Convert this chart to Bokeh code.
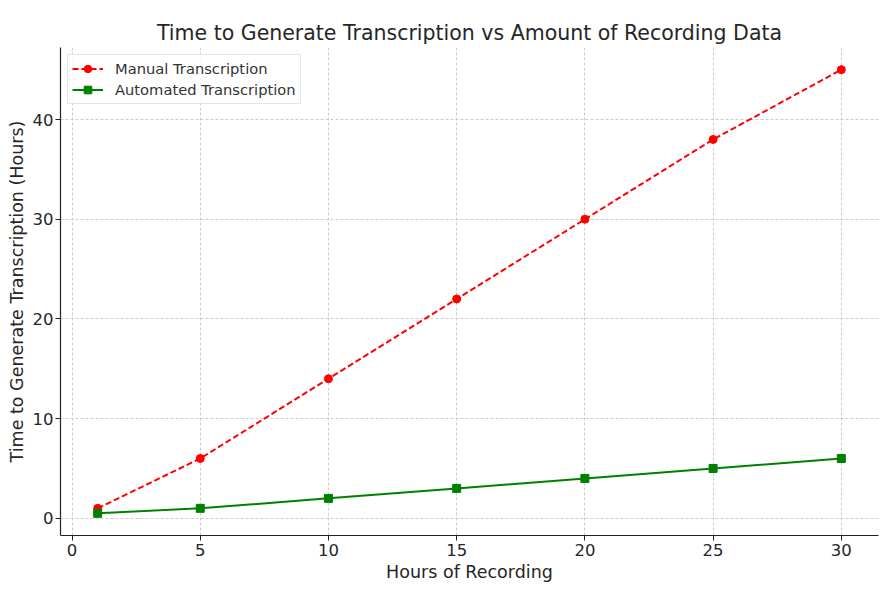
from bokeh.plotting import figure
from bokeh.models import Range1d, FixedTicker, Legend, LegendItem
from bokeh.embed import file_html
from bokeh.resources import INLINE

hours = [1, 5, 10, 15, 20, 25, 30]
manual = [1, 6, 14, 22, 30, 38, 45]
automated = [0.5, 1, 2, 3, 4, 5, 6]
x_ticks = [0, 5, 10, 15, 20, 25, 30]
y_ticks = [0, 10, 20, 30, 40]

FONT = "DejaVu Sans"

p = figure(frame_width=818, frame_height=488, output_backend="svg", toolbar_location=None,
           x_range=Range1d(-0.45, 31.45), y_range=Range1d(-1.725, 47.225),
           min_border_left=60, min_border_right=2, min_border_top=47, min_border_bottom=49)

p.title.text = "Time to Generate Transcription vs Amount of Recording Data"
p.title.text_font = FONT
p.title.text_font_size = "20.5px"
p.title.text_font_style = "normal"
p.title.text_color = "#262626"
p.title.align = "center"
p.title.standoff = 5

p.outline_line_color = None
p.background_fill_color = "white"

for ax in (p.xaxis, p.yaxis):
    ax.axis_line_color = "#222222"
    ax.axis_line_width = 1.2
    ax.major_tick_line_color = "#222222"
    ax.major_tick_out = 5
    ax.major_tick_in = 0
    ax.minor_tick_line_color = None
    ax.major_label_text_font = FONT
    ax.major_label_text_font_size = "16.5px"
    ax.major_label_text_color = "#262626"
    ax.major_label_standoff = 2
    ax.axis_label_text_font = FONT
    ax.axis_label_text_font_size = "17.5px"
    ax.axis_label_text_font_style = "normal"
    ax.axis_label_text_color = "#262626"

p.xaxis.ticker = FixedTicker(ticks=x_ticks)
p.yaxis.ticker = FixedTicker(ticks=y_ticks)
p.xaxis.axis_label = "Hours of Recording"
p.yaxis.axis_label = "Time to Generate Transcription (Hours)"
p.xaxis.major_label_standoff = 3
p.xaxis.axis_label_standoff = 3
p.yaxis.axis_label_standoff = 3

for g in (p.xgrid, p.ygrid):
    g.grid_line_color = "#cccccc"
    g.grid_line_dash = "3 2"
    g.grid_line_width = 1

l1 = p.line(hours, manual, line_color="red", line_width=2, line_dash="6 3")
s1 = p.scatter(hours, manual, marker="circle", size=8, fill_color="red", line_color="red")
l2 = p.line(hours, automated, line_color="green", line_width=2)
s2 = p.scatter(hours, automated, marker="square", size=8, fill_color="green", line_color="green")

legend = Legend(items=[LegendItem(label="Manual Transcription", renderers=[l1, s1]),
                       LegendItem(label="Automated Transcription", renderers=[l2, s2])],
                location="top_left")
legend.label_text_font = FONT
legend.label_text_font_size = "14.7px"
legend.label_text_color = "#333333"
legend.border_line_color = "#cccccc"
legend.border_line_width = 1
legend.background_fill_alpha = 0.8
legend.glyph_width = 31
legend.label_standoff = 12
legend.spacing = 2
legend.padding = 4
legend.margin = 7
legend.label_height = 19
legend.glyph_height = 19
p.add_layout(legend)

open("out.html", "w").write(file_html(p, INLINE))
